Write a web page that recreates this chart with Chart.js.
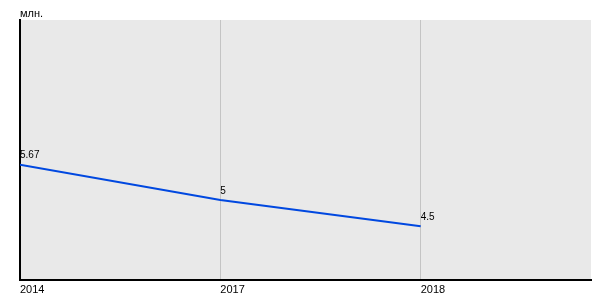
<!DOCTYPE html>
<html>
<head>
<meta charset="utf-8">
<script src="https://cdn.jsdelivr.net/npm/chart.js@4/dist/chart.umd.min.js"></script>
<style>
  html, body { margin: 0; padding: 0; background: #fff; }
  #wrap { width: 600px; height: 300px; }
</style>
</head>
<body>
<div id="wrap"><canvas id="chart"></canvas></div>
<script>
const years = ['2014', '2017', '2018']
const positions = [0, 1, 2]
const values = [5.67, 5, 4.5]
const valueLabels = ['5.67', '5', '4.5']
const unitLabel = 'млн.'

const FONT = "'Liberation Sans', Arial, sans-serif"

// grey plot background + unit label + point labels
const decor = {
  id: 'decor',
  beforeDraw(chart) {
    const { ctx, chartArea: a } = chart
    ctx.save()
    ctx.fillStyle = '#e9e9e9'
    ctx.fillRect(a.left, a.top, a.right - a.left, a.bottom - a.top)
    ctx.restore()
  },
  afterDraw(chart) {
    const { ctx, chartArea: a } = chart
    ctx.save()
    ctx.fillStyle = '#000'
    ctx.font = '11px ' + FONT
    ctx.textAlign = 'left'
    ctx.textBaseline = 'middle'
    ctx.fillText(unitLabel, a.left, a.top - 6)
    ctx.font = '10px ' + FONT
    const meta = chart.getDatasetMeta(0)
    meta.data.forEach((pt, i) => {
      ctx.fillText(valueLabels[i], pt.x, pt.y - 9)
    })
    ctx.restore()
  }
}

new Chart(document.getElementById('chart'), {
  type: 'line',
  data: {
    datasets: [
      {
        data: positions.map((p, i) => ({ x: p, y: values[i] })),
        borderColor: '#0048e0',
        borderWidth: 2,
        pointRadius: 0,
        fill: false,
        tension: 0,
      },
    ],
  },
  options: {
    responsive: true,
    maintainAspectRatio: false,
    animation: false,
    layout: {
      padding: { left: 20, top: 20, right: 9, bottom: 0 },
    },
    plugins: {
      legend: { display: false },
      tooltip: { enabled: false },
    },
    scales: {
      x: {
        type: 'linear',
        min: 0,
        max: 2.85,
        afterBuildTicks: (s) => {
          s.ticks = positions.map((p) => ({ value: p }))
        },
        afterFit: (s) => {
          s.height = 20
        },
        grid: {
          drawTicks: false,
          color: (c) => (c.tick && c.tick.value === 0 ? 'rgba(0,0,0,0)' : '#c4c4c4'),
          lineWidth: 1,
        },
        border: { display: true, color: '#000', width: 2 },
        ticks: {
          align: 'start',
          padding: 3,
          maxRotation: 0,
          autoSkip: false,
          color: '#000',
          font: { family: FONT, size: 11 },
          callback: (v) => years[positions.indexOf(v)],
        },
      },
      y: {
        min: 3.48,
        max: 8.42,
        afterFit: (s) => {
          s.width = 0
        },
        grid: { display: false },
        border: { display: true, color: '#000', width: 2 },
        ticks: { display: false },
      },
    },
  },
  plugins: [decor],
})
</script>
</body>
</html>
